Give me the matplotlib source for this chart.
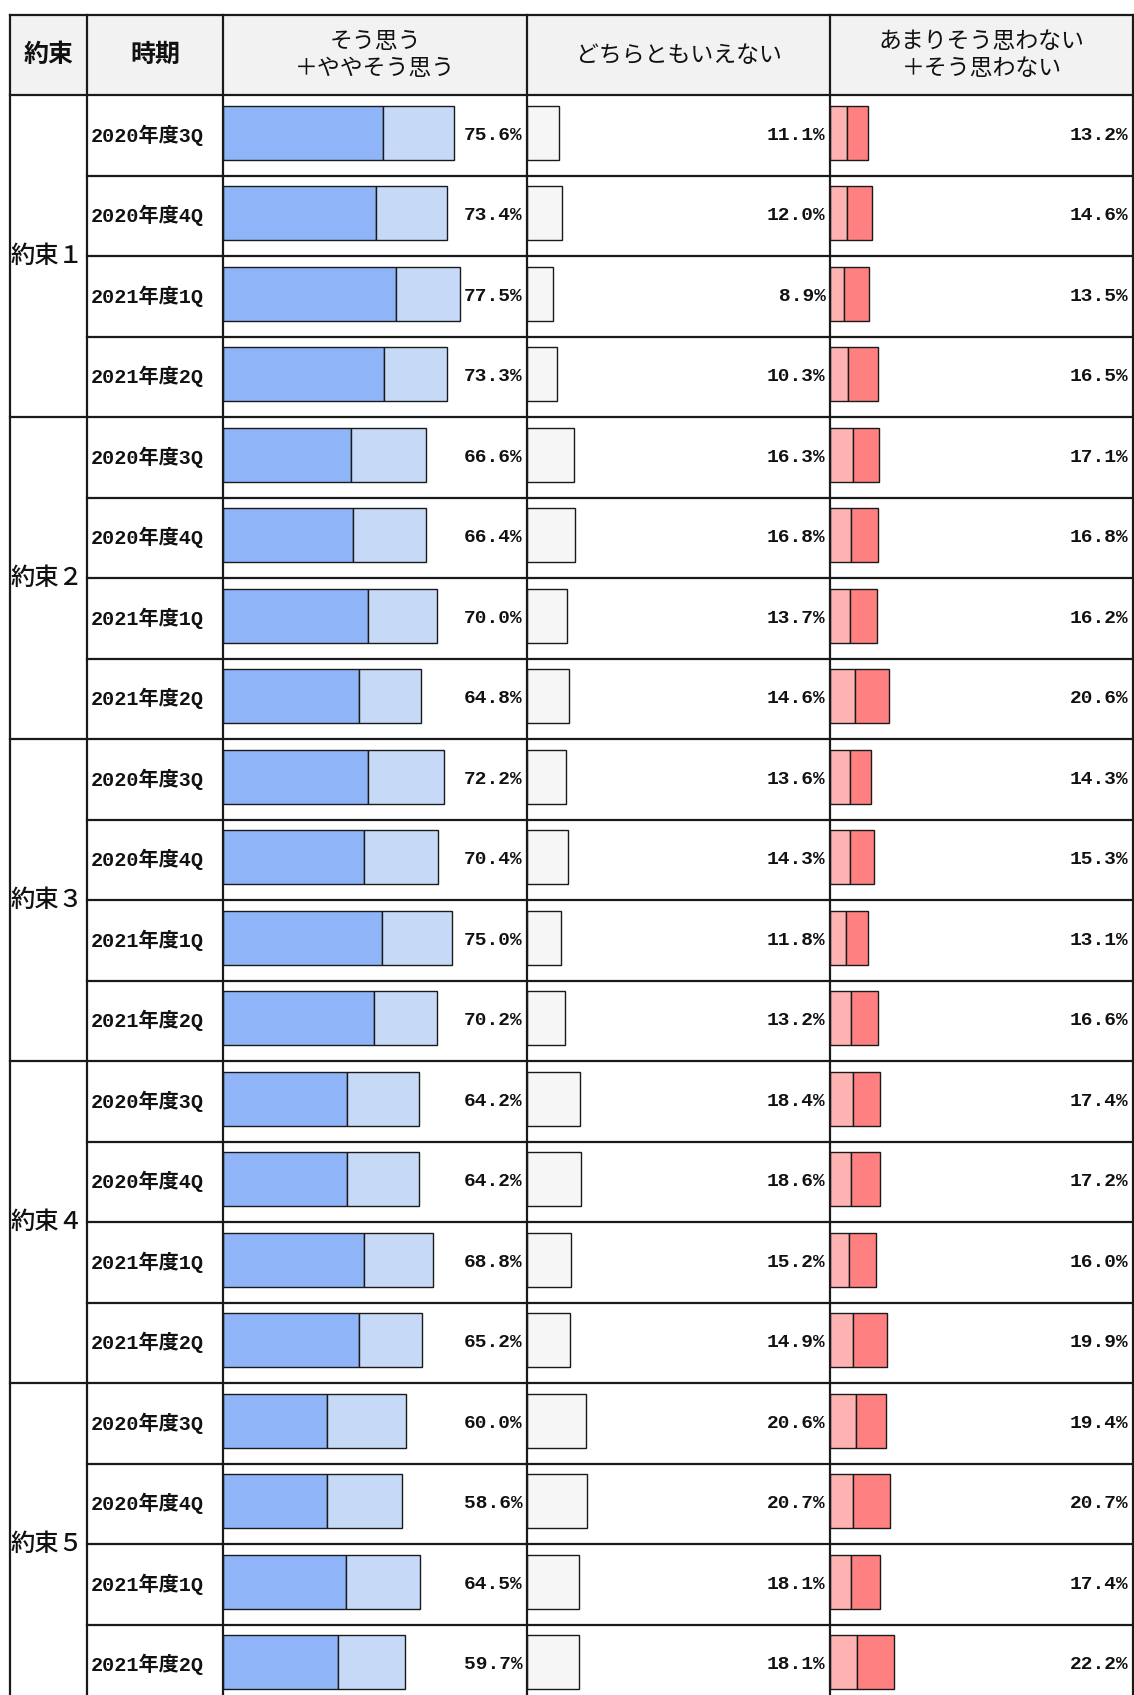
import numpy as np
import matplotlib
matplotlib.use('Agg')
import matplotlib.pyplot as plt
from matplotlib.patches import Rectangle

plt.rcParams['font.family'] = ['Liberation Mono', 'Noto Sans CJK JP']

# ── Data ──────────────────────────────────────────────────
promises = ['約束１', '約束２', '約束３', '約束４', '約束５']
periods = ['2020年度3Q', '2020年度4Q', '2021年度1Q', '2021年度2Q']

# そう思う＋ややそう思う (total) and そう思う (strong part)
agree_total = [75.6, 73.4, 77.5, 73.3, 66.6, 66.4, 70.0, 64.8, 72.2, 70.4,
               75.0, 70.2, 64.2, 64.2, 68.8, 65.2, 60.0, 58.6, 64.5, 59.7]
agree_strong = [52.4, 50.2, 56.6, 52.7, 42.0, 42.4, 47.3, 44.4, 47.3, 46.3,
                52.2, 49.3, 40.5, 40.5, 46.3, 44.4, 34.2, 34.2, 40.1, 37.5]

# どちらともいえない
neutral = [11.1, 12.0, 8.9, 10.3, 16.3, 16.8, 13.7, 14.6, 13.6, 14.3,
           11.8, 13.2, 18.4, 18.6, 15.2, 14.9, 20.6, 20.7, 18.1, 18.1]

# あまりそう思わない＋そう思わない (total) and あまりそう思わない (first part)
disagree_total = [13.2, 14.6, 13.5, 16.5, 17.1, 16.8, 16.2, 20.6, 14.3, 15.3,
                  13.1, 16.6, 17.4, 17.2, 16.0, 19.9, 19.4, 20.7, 17.4, 22.2]
disagree_some = [5.9, 5.9, 4.9, 6.4, 8.0, 7.4, 6.9, 8.5, 6.9, 6.9,
                 5.4, 7.4, 8.0, 7.4, 6.5, 8.0, 9.0, 8.0, 7.4, 9.5]

headers = ['約束', '時期', 'そう思う\n＋ややそう思う', 'どちらともいえない',
           'あまりそう思わない\n＋そう思わない']

# ── Layout (pixels) ───────────────────────────────────────
W, H = 1134, 1695
col_x = [10, 87, 223, 527, 830, 1133]
top, head_h, row_h = 15, 80, 80.5
n_rows = len(agree_total)
body_top = top + head_h
body_bot = body_top + n_rows * row_h

C_BLUE_D, C_BLUE_L = '#8fb4f8', '#c6daf8'
C_GRAY = '#f6f6f6'
C_RED_L, C_RED_D = '#ffb2b2', '#ff8080'
EDGE = '#1a1a1a'
LW = 1.6

fig = plt.figure(figsize=(W / 100, H / 100), dpi=100)


def bar_axes(x0, x1, xmax):
    ax = fig.add_axes([x0 / W, 1 - body_bot / H, (x1 - x0) / W,
                       (body_bot - body_top) / H])
    ax.set_xlim(0, xmax)
    ax.set_ylim(n_rows - 0.5, -0.5)
    ax.axis('off')
    return ax


def value_labels(ax, vals):
    for i, v in enumerate(vals):
        ax.annotate(f'{v:.1f}%', xy=(1, i), xycoords=ax.get_yaxis_transform(),
                    xytext=(-3, 0), textcoords='offset points',
                    ha='right', va='center', fontsize=14, fontweight='bold',
                    color='#111111')


y = np.arange(n_rows) - 0.03
bh = 0.67
bar_kw = dict(height=bh, edgecolor=EDGE, linewidth=1.0)

# ── Bars ──────────────────────────────────────────────────
ax1 = bar_axes(col_x[2], col_x[3], 99.5)
strong = np.array(agree_strong)
ax1.barh(y, strong, color=C_BLUE_D, **bar_kw)
ax1.barh(y, np.array(agree_total) - strong, left=strong, color=C_BLUE_L, **bar_kw)
value_labels(ax1, agree_total)

ax2 = bar_axes(col_x[3], col_x[4], 105)
ax2.barh(y, neutral, color=C_GRAY, **bar_kw)
value_labels(ax2, neutral)

ax3 = bar_axes(col_x[4], col_x[5], 105)
some = np.array(disagree_some)
ax3.barh(y, some, color=C_RED_L, **bar_kw)
ax3.barh(y, np.array(disagree_total) - some, left=some, color=C_RED_D, **bar_kw)
value_labels(ax3, disagree_total)

# ── Table grid, header and row labels ─────────────────────
ov = fig.add_axes([0, 0, 1, 1], zorder=5)
ov.set_xlim(0, W)
ov.set_ylim(H, 0)
ov.axis('off')
ov.patch.set_alpha(0)

ov.add_patch(Rectangle((col_x[0], top), col_x[-1] - col_x[0], head_h,
                       facecolor='#f2f2f2', edgecolor='none', zorder=0))

line_kw = dict(color=EDGE, linewidth=LW, solid_capstyle='projecting', zorder=3)
ov.plot([col_x[0], col_x[-1]], [top, top], **line_kw)
ov.plot([col_x[0], col_x[-1]], [body_top, body_top], **line_kw)
for x in col_x:
    ov.plot([x, x], [top, body_bot], **line_kw)

n_per = len(periods)
for i in range(1, n_rows):
    yy = body_top + i * row_h
    x_start = col_x[0] if i % n_per == 0 else col_x[1]
    ov.plot([x_start, col_x[-1]], [yy, yy], **line_kw)

for j, h in enumerate(headers):
    bold = j < 2
    ov.text((col_x[j] + col_x[j + 1]) / 2, top + head_h / 2, h,
            ha='center', va='center', fontsize=18 if bold else 16.5,
            linespacing=1.25, family=['Noto Sans CJK JP'],
            fontweight='bold' if bold else 'normal', color='#111111')

for g, p in enumerate(promises):
    yc = body_top + (g * n_per + n_per / 2) * row_h
    ov.text(col_x[0] + 1, yc, p, ha='left', va='center', fontsize=17.5,
            family=['Noto Sans CJK JP'], fontweight='medium', color='#111111')

for i in range(n_rows):
    yc = body_top + (i + 0.5) * row_h
    ov.text(col_x[1] + 4, yc, periods[i % n_per], ha='left', va='center',
            fontsize=14.5, fontweight='bold', color='#111111')

fig.savefig('out.png', dpi=100)
